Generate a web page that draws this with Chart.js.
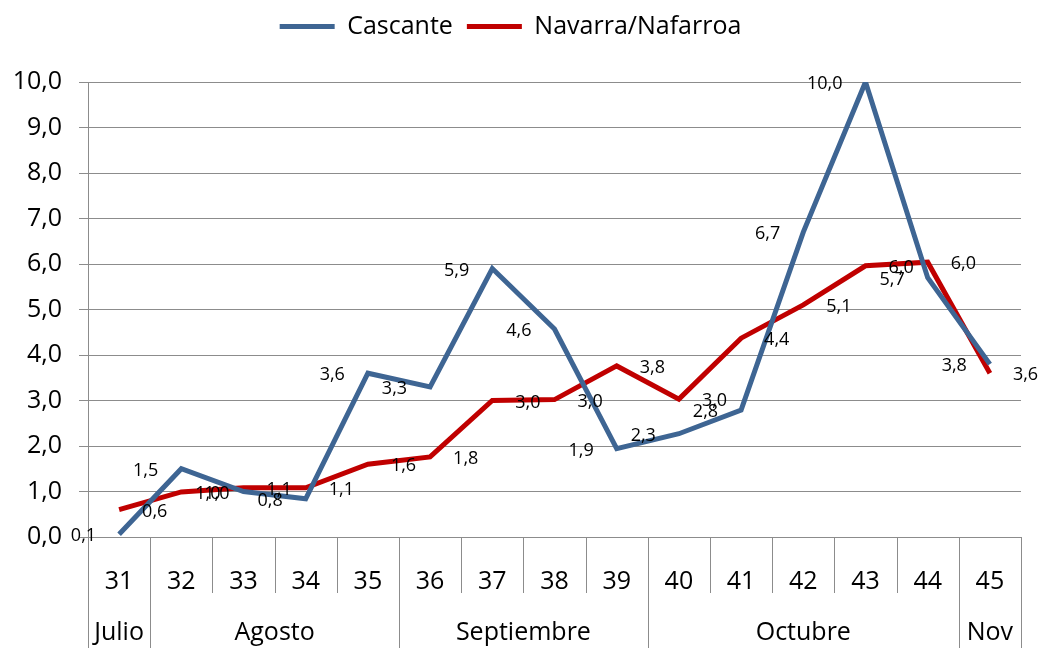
<!DOCTYPE html>
<html lang="es">
<head>
<meta charset="UTF-8">
<title>Cascante - Navarra/Nafarroa</title>
<script src="https://cdn.jsdelivr.net/npm/chart.js@4.4.0/dist/chart.umd.min.js"></script>
<style>
    html, body {
        margin: 0;
        padding: 0;
        background: #fff;
    }

    #wrap {
        width: 1041px;
        height: 648px;
    }
</style>
</head>
<body>
<div id="wrap"><canvas id="chart"></canvas></div>
<script>
    // data
    const weeks = ['31', '32', '33', '34', '35', '36', '37', '38', '39', '40', '41', '42', '43', '44', '45'];
    const cascante = [0.06, 1.5, 1.0, 0.84, 3.6, 3.3, 5.9, 4.57, 1.94, 2.27, 2.79, 6.7, 10.0, 5.7, 3.8];
    const navarra = [0.6, 0.99, 1.08, 1.08, 1.6, 1.76, 3.0, 3.02, 3.76, 3.03, 4.37, 5.1, 5.96, 6.04, 3.6];
    const months = ['Julio', 'Agosto', 'Septiembre', 'Octubre', 'Nov'];
    const monthSpans = [1, 4, 4, 5, 1];
    const yMin = 0, yMax = 10, yStep = 1;

    const FONT = '"Open Sans", "DejaVu Sans", sans-serif';
    const gridColor = '#8c8c8c';
    const fmt = v => v.toFixed(1).replace('.', ',');

    // make room under the legend so the plot starts lower
    const legendGap = {
        id: 'legendGap',
        beforeInit(chart) {
            const fit = chart.legend.fit;
            chart.legend.fit = function () {
                fit.bind(chart.legend)();
                this.height += 33;
            };
        }
    };

    // value labels: Cascante on the left of its point, Navarra on the right
    const valueLabels = {
        id: 'valueLabels',
        afterDatasetsDraw(chart) {
            const ctx = chart.ctx;
            ctx.save();
            ctx.font = '18px ' + FONT;
            ctx.fillStyle = '#000';
            ctx.textBaseline = 'middle';
            chart.data.datasets.forEach((ds, i) => {
                const meta = chart.getDatasetMeta(i);
                const left = i === 0;
                ctx.textAlign = left ? 'right' : 'left';
                meta.data.forEach((pt, j) => {
                    const x = left ? pt.x - 23 : pt.x + 23;
                    ctx.fillText(fmt(ds.data[j]), x, pt.y + 2);
                });
            });
            ctx.restore();
        }
    };

    // week separators and the month row under the x axis
    const monthRow = {
        id: 'monthRow',
        afterDraw(chart) {
            const ctx = chart.ctx;
            const xs = chart.scales.x;
            const area = chart.chartArea;
            const step = xs.getPixelForValue(1) - xs.getPixelForValue(0);
            const edge = i => xs.getPixelForValue(i) - step / 2;
            const bottom = chart.height;
            const weekBottom = area.bottom + 56;

            const bounds = [0];
            monthSpans.forEach(n => bounds.push(bounds[bounds.length - 1] + n));

            ctx.save();
            ctx.strokeStyle = gridColor;
            ctx.lineWidth = 1;
            for (let i = 0; i <= weeks.length; i++) {
                const x = Math.round(edge(i)) + 0.5;
                const full = bounds.includes(i);
                ctx.beginPath();
                ctx.moveTo(x, area.bottom);
                ctx.lineTo(x, full ? bottom : weekBottom);
                ctx.stroke();
            }

            ctx.font = '25px ' + FONT;
            ctx.fillStyle = '#000';
            ctx.textAlign = 'center';
            ctx.textBaseline = 'middle';
            months.forEach((m, k) => {
                const cx = (edge(bounds[k]) + edge(bounds[k + 1])) / 2;
                ctx.fillText(m, cx, area.bottom + 96);
            });
            ctx.restore();
        }
    };

    new Chart(document.getElementById('chart'), {
        type: 'line',
        data: {
            labels: weeks,
            datasets: [
                {
                    label: 'Cascante',
                    data: cascante,
                    borderColor: '#3e6593',
                    backgroundColor: '#3e6593',
                    borderWidth: 5,
                    pointRadius: 0,
                    tension: 0
                },
                {
                    label: 'Navarra/Nafarroa',
                    data: navarra,
                    borderColor: '#c00000',
                    backgroundColor: '#c00000',
                    borderWidth: 5,
                    pointRadius: 0,
                    tension: 0
                }
            ]
        },
        options: {
            responsive: true,
            maintainAspectRatio: false,
            animation: false,
            layout: {
                padding: { top: 0, right: 20, left: 0, bottom: 0 }
            },
            plugins: {
                legend: {
                    position: 'top',
                    labels: {
                        usePointStyle: true,
                        pointStyle: 'line',
                        pointStyleWidth: 55,
                        boxHeight: 5,
                        padding: 14,
                        color: '#000',
                        font: { family: FONT, size: 25 }
                    }
                },
                tooltip: { enabled: false }
            },
            scales: {
                x: {
                    offset: true,
                    grid: { display: false, offset: true },
                    border: { display: true, color: gridColor, width: 1 },
                    ticks: {
                        color: '#000',
                        font: { family: FONT, size: 25 },
                        padding: 22,
                        maxRotation: 0,
                        autoSkip: false
                    },
                    afterFit(s) { s.height = 111; }
                },
                y: {
                    min: yMin,
                    max: yMax,
                    ticks: {
                        stepSize: yStep,
                        color: '#000',
                        font: { family: FONT, size: 25 },
                        padding: 17,
                        callback: v => fmt(v)
                    },
                    grid: { color: gridColor, tickLength: 9, lineWidth: 1 },
                    border: { color: gridColor, width: 1 },
                    afterFit(s) { s.width = 88; }
                }
            }
        },
        plugins: [legendGap, valueLabels, monthRow]
    });
</script>
</body>
</html>
